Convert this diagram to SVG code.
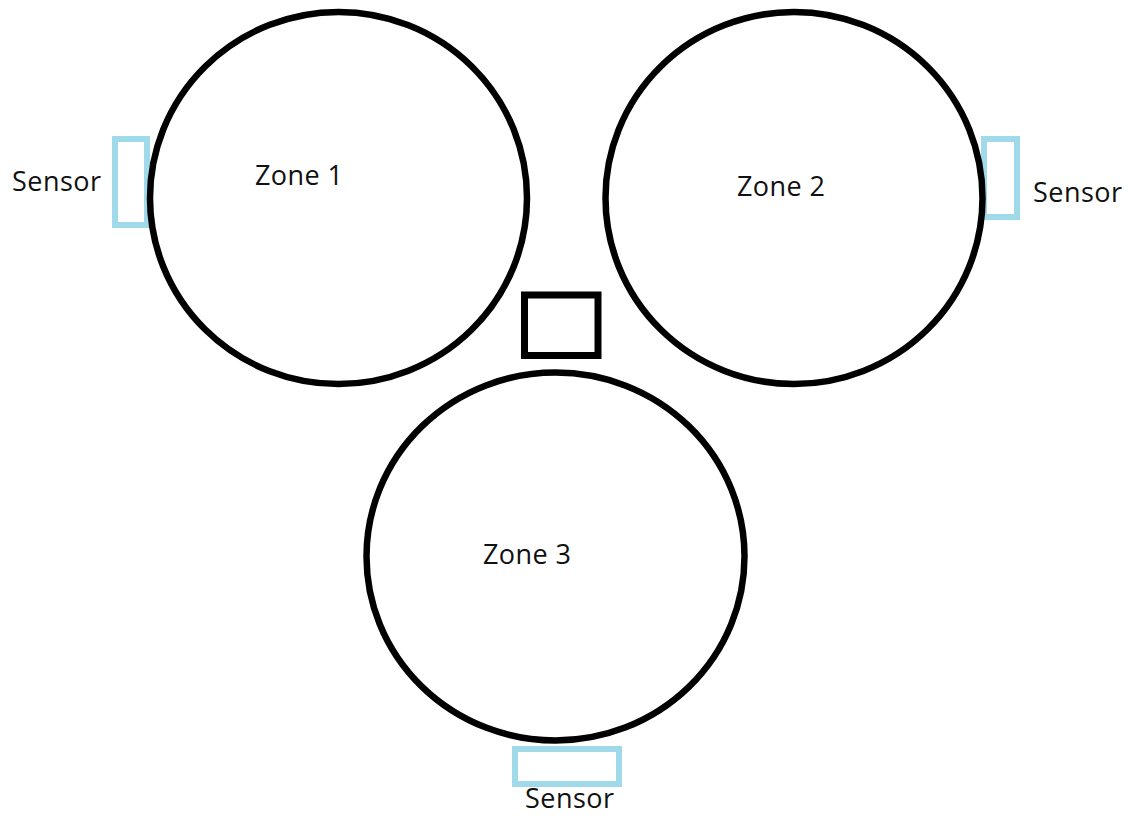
<svg xmlns="http://www.w3.org/2000/svg" width="1134" height="816" viewBox="0 0 1134 816">
<style>
.zone{fill:none;stroke:#000;stroke-width:6.5}
.sensor{fill:none;stroke:#9fd9ea;stroke-width:6}
.box{fill:none;stroke:#000;stroke-width:7}
.lbl{font-family:"Open Sans","Noto Sans",sans-serif;font-size:27px;fill:#111}
</style>
<rect width="1134" height="816" fill="#fff"/>
<g id="sensor1"><rect class="sensor" x="115" y="139" width="32" height="86"/><text class="lbl" x="12" y="191" textLength="89">Sensor</text></g>
<g id="sensor2"><rect class="sensor" x="984" y="139" width="33" height="78"/><text class="lbl" x="1033" y="202" textLength="89">Sensor</text></g>
<g id="sensor3"><rect class="sensor" x="515" y="749" width="104" height="35"/><text class="lbl" x="525" y="808" textLength="89">Sensor</text></g>
<g id="zone1"><ellipse class="zone" cx="338.5" cy="198" rx="188.5" ry="186"/><text class="lbl" x="255" y="185" textLength="88">Zone 1</text></g>
<g id="zone2"><ellipse class="zone" cx="794" cy="198" rx="188.5" ry="186"/><text class="lbl" x="737" y="196" textLength="88">Zone 2</text></g>
<g id="zone3"><ellipse class="zone" cx="555.5" cy="556.5" rx="189" ry="184"/><text class="lbl" x="483" y="564" textLength="88">Zone 3</text></g>
<g id="center"><rect class="box" x="524.5" y="295" width="73.5" height="60.5"/></g>
<g id="connectors"></g>
</svg>
